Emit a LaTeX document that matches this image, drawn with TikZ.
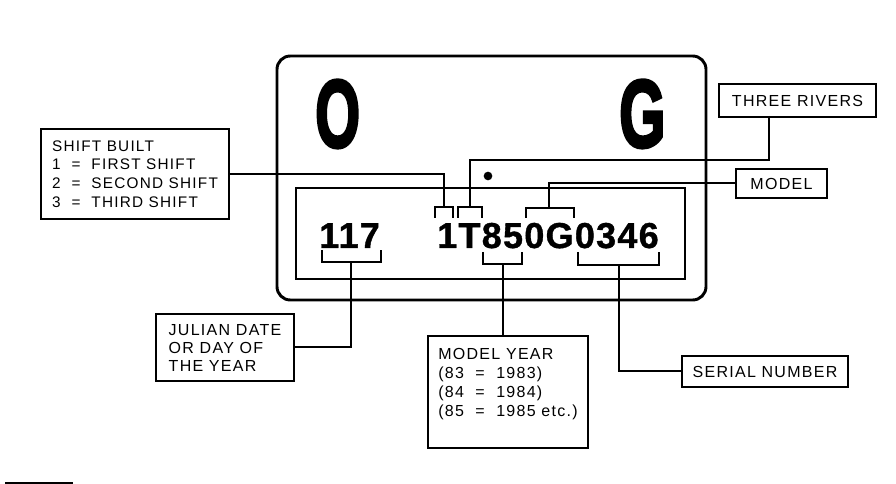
\documentclass[tikz,border=0pt]{standalone}
\usepackage{fontspec}
\usepackage{graphicx}
\setmainfont{Liberation Sans}
\newfontfamily\lblfont[LetterSpace=8]{Liberation Sans}
\newfontfamily\digfont[LetterSpace=3.5,BoldFeatures={FakeBold=1}]{Liberation Sans}
\newfontfamily\bigfont[BoldFeatures={FakeBold=3.5}]{Liberation Sans}
\begin{document}
\begin{tikzpicture}[x=0.75pt,y=-0.75pt,
  conn/.style={line width=1.5pt},
  brk/.style={line width=1.5pt},
  lbox/.style={draw, line width=1.5pt, anchor=north west, inner sep=0pt, align=left},
  onebox/.style={lbox, font={\lblfont\fontsize{12}{14}\selectfont}},
  digits/.style={anchor=base west, inner sep=0pt, font={\digfont\bfseries\fontsize{27}{30}\selectfont}},
  bigletter/.style={anchor=base west, inner sep=0pt, font={\bigfont\bfseries\fontsize{72}{72}\selectfont}}]
\useasboundingbox (0,0) rectangle (896,484);

% plate
\draw[line width=2.2pt, rounded corners=10pt] (277,56) rectangle (706,300);
\draw[line width=2pt] (296,188) rectangle (685,279);
\node[bigletter] (bigO) at (315,147) {\scalebox{0.6}[1]{O}};
\node[bigletter] (bigG) at (619,147) {\scalebox{0.62}[1]{G}};
\node[circle, fill, inner sep=0pt, minimum size=6.5pt] (dot) at (488,176) {};
\node[digits] (date) at (319,248) {117};
\node[digits] (code) at (437,248) {1T850G0346};

% brackets
\draw[brk] (435,218) |- (453,207) -- (453,218);
\draw[brk] (458,218) |- (482,207) -- (482,218);
\draw[brk] (526,218) |- (574,208) -- (574,218);
\draw[brk] (322,250) |- (381,262) -- (381,250);
\draw[brk] (483,252) |- (522,264) -- (522,252);
\draw[brk] (578,252) |- (659,265) -- (659,252);
\coordinate (b1) at (444,207);
\coordinate (bT) at (470,207);
\coordinate (bG) at (549,208);
\coordinate (b117) at (351,262);
\coordinate (b850) at (503,264);
\coordinate (bser) at (619,265);
\coordinate (kT) at (470,160);
\coordinate (trs) at (769,116);

% label boxes
\node[lbox, minimum width=141pt, minimum height=67.5pt,
      font={\lblfont\fontsize{11.5}{14}\selectfont}] (shift) at (40,128)
  {SHIFT BUILT\\1~~=~~FIRST SHIFT\\2~~=~~SECOND SHIFT\\3~~=~~THIRD SHIFT};
\node[lbox, minimum width=103.5pt, minimum height=50.25pt,
      font={\lblfont\fontsize{12}{13.5}\selectfont}] (julian) at (155,313)
  {JULIAN DATE\\OR DAY OF\\THE YEAR};
\node[lbox, minimum width=120pt, minimum height=84pt, text depth=14pt,
      font={\lblfont\fontsize{12}{14.25}\selectfont}] (myear) at (427,335)
  {MODEL YEAR\\(83~~=~~1983)\\(84~~=~~1984)\\(85~~=~~1985 etc.)};
\node[onebox, minimum width=117.75pt, minimum height=24.75pt] (rivers) at (718,83) {THREE RIVERS};
\node[onebox, minimum width=68.25pt, minimum height=21.75pt] (model) at (735,168) {MODEL};
\node[onebox, minimum width=124.5pt, minimum height=23.25pt] (serial) at (681,355) {SERIAL NUMBER};

% connectors
\draw[conn] (shift.east) -| (b1);
\draw[conn] (trs) |- (kT) -- (bT);
\draw[conn] (model.west) -| (bG);
\draw[conn] (julian.east) -| (b117);
\draw[conn] (b850) -- (b850 |- myear.north);
\draw[conn] (serial.west) -| (bser);

% stray rule at lower left
\draw[line width=1.2pt] (5,483) -- (73,483);
\end{tikzpicture}
\end{document}
